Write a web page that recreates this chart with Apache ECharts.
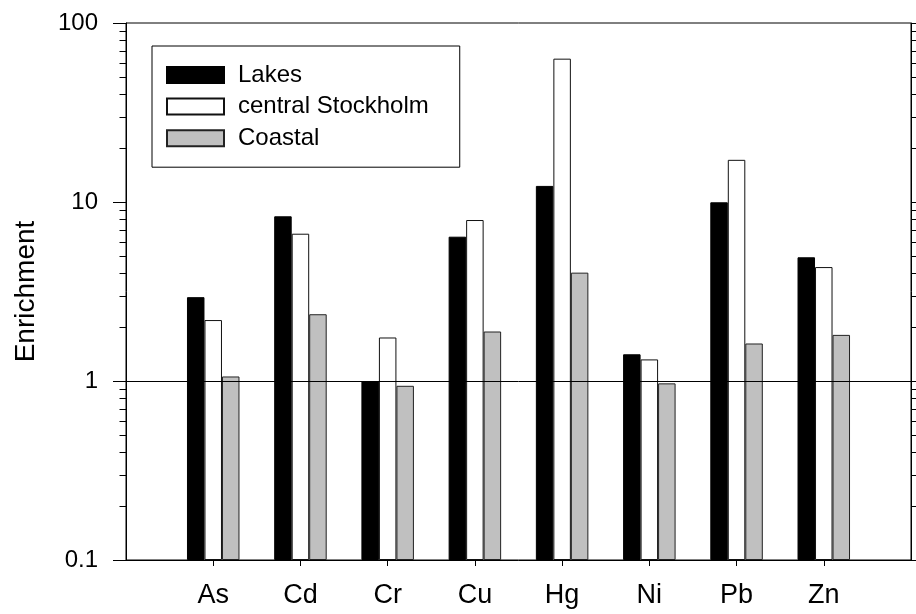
<!DOCTYPE html>
<html>
<head>
<meta charset="utf-8">
<script src="https://cdn.jsdelivr.net/npm/echarts@6/dist/echarts.min.js"></script>
<style>
  html, body { margin: 0; padding: 0; background: #fff; }
  #chart { width: 916px; height: 614px; }
</style>
</head>
<body>
<div id="chart"></div>
<script>
// Metal enrichment factors per element and sampling area
const categories = ['As', 'Cd', 'Cr', 'Cu', 'Hg', 'Ni', 'Pb', 'Zn'];
const lakes   = [2.94, 8.32, 1.00, 6.40, 12.3, 1.41, 9.96, 4.91];
const central = [2.19, 6.65, 1.75, 7.93, 63.2, 1.32, 17.2, 4.33];
const coastal = [1.06, 2.36, 0.94, 1.89, 4.03, 0.97, 1.62, 1.81];

// Log axis: decade labels and intermediate (minor) tick values
const yTickLabels = ['0.1', '1', '10', '100'];
const minorTicks = [0.2, 0.3, 0.4, 0.5, 0.6, 0.7, 0.8, 0.9,
                    2, 3, 4, 5, 6, 7, 8, 9,
                    20, 30, 40, 50, 60, 70, 80, 90];

const FONT = "'Liberation Sans', Arial, sans-serif";

// One empty slot on each side so the elements sit inside the frame
const xCats = [''].concat(categories, ['']);
const pad = arr => [null].concat(arr, [null]);

const chart = echarts.init(document.getElementById('chart'), null, { renderer: 'canvas' });

const logAxisCommon = {
  type: 'log',
  logBase: 10,
  min: 0.1,
  max: 100,
  startValue: 0.1,
  splitLine: { show: false },
  axisLine: { show: true, lineStyle: { color: '#000', width: 1 } },
  axisTick: { show: true, inside: false, length: 13, lineStyle: { color: '#000', width: 1 } }
};

chart.setOption({
  animation: false,
  backgroundColor: '#fff',
  grid: {
    left: 126, right: 5, top: 23, bottom: 54,
    show: true, borderColor: '#000', borderWidth: 1, backgroundColor: 'transparent'
  },
  legend: {
    data: ['Lakes', 'central Stockholm', 'Coastal'],
    orient: 'vertical',
    left: 152,
    top: 46,
    itemWidth: 57,
    itemHeight: 16,
    itemGap: 7.6,
    padding: [17, 31, 17, 14],
    borderColor: '#000',
    borderWidth: 1,
    backgroundColor: '#fff',
    icon: 'rect',
    selectedMode: false,
    textStyle: { fontFamily: FONT, fontSize: 24, color: '#000', lineHeight: 24, padding: [0, 0, 0, 9] }
  },
  xAxis: {
    type: 'category',
    data: xCats,
    boundaryGap: false,
    axisLine: { show: true, lineStyle: { color: '#000', width: 1 } },
    axisTick: {
      show: true, length: 6, inside: false,
      interval: (i) => i > 0 && i < xCats.length - 1,
      lineStyle: { color: '#000' }
    },
    axisLabel: { fontFamily: FONT, fontSize: 27, color: '#000', margin: 22, interval: 0 },
    splitLine: { show: false }
  },
  yAxis: [
    Object.assign({}, logAxisCommon, {
      position: 'left',
      name: 'Enrichment',
      nameLocation: 'middle',
      nameRotate: 90,
      nameGap: 86,
      nameTextStyle: { fontFamily: FONT, fontSize: 28, color: '#000' },
      axisLabel: {
        fontFamily: FONT, fontSize: 24, color: '#000', margin: 28,
        formatter: (v) => {
          const i = Math.round(Math.log10(v)) + 1;
          return yTickLabels[i] !== undefined ? yTickLabels[i] : '';
        }
      }
    }),
    Object.assign({}, logAxisCommon, {
      position: 'right',
      axisLabel: { show: false }
    })
  ],
  series: [
    {
      name: 'Lakes',
      type: 'bar',
      data: pad(lakes),
      barWidth: 17.5,
      barGap: '0%',
      itemStyle: { color: '#000', borderColor: '#000', borderWidth: 1 }
    },
    {
      name: 'central Stockholm',
      type: 'bar',
      data: pad(central),
      barWidth: 17.5,
      barGap: '0%',
      itemStyle: { color: '#fff', borderColor: '#111', borderWidth: 1 }
    },
    {
      name: 'Coastal',
      type: 'bar',
      data: pad(coastal),
      barWidth: 17.5,
      barGap: '0%',
      itemStyle: { color: '#c0c0c0', borderColor: '#222', borderWidth: 1 },
      markLine: {
        silent: true,
        symbol: ['none', 'none'],
        label: { show: false },
        lineStyle: { color: '#000', type: 'solid', width: 1 },
        data: [{ yAxis: 1 }],
        z: 10
      }
    },
    {
      // minor ticks on both vertical axes, placed through the log scale
      type: 'custom',
      silent: true,
      clip: false,
      z: 5,
      data: minorTicks.map(v => [0, v]),
      encode: { x: 0, y: 1 },
      renderItem: function (params, api) {
        const y = Math.round(api.coord([0, api.value(1)])[1]) + 0.5;
        const cs = params.coordSys;
        const xl = Math.round(cs.x) + 0.5;
        const xr = Math.round(cs.x + cs.width) + 0.5;
        return {
          type: 'group',
          children: [
            { type: 'line', shape: { x1: xl - 7, y1: y, x2: xl, y2: y }, style: { stroke: '#000', lineWidth: 1 } },
            { type: 'line', shape: { x1: xr, y1: y, x2: xr + 7, y2: y }, style: { stroke: '#000', lineWidth: 1 } }
          ]
        };
      }
    }
  ]
});
</script>
</body>
</html>
